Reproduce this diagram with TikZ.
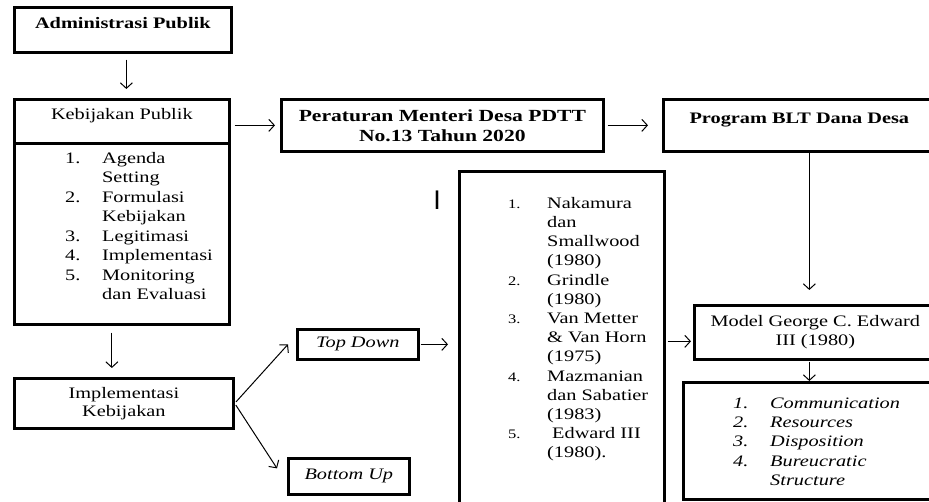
\documentclass[tikz,border=0pt]{standalone}
\usepackage{fontspec}
\setmainfont[FakeStretch=1.27]{Liberation Serif}
\newfontfamily\barfont{Liberation Sans}
\usetikzlibrary{arrows.meta,positioning}
\newcommand{\smallnum}[1]{{\fontsize{13}{14}\selectfont #1}}

\begin{document}
\begin{tikzpicture}[x=1pt,y=-1pt,
  box/.style={draw,line width=2.7pt,inner sep=4pt,anchor=north west,align=center,font=\fontsize{16}{19.5}\selectfont},
  items/.style={anchor=north west,inner sep=0pt,font=\fontsize{16}{19.5}\selectfont},
  arr/.style={-{Straight Barb[length=5.5pt,width=12pt]},line width=1pt}]
\clip (0,0) rectangle (929,502);

% left column
\node[box,minimum width=217pt,minimum height=45pt,text height=17pt,text depth=20pt,font=\fontsize{16}{19.5}\selectfont\bfseries] (admin) at (13,6) {Administrasi Publik};
\node[box,minimum width=215pt,minimum height=44pt,text height=16pt,text depth=20pt] (kebtitle) at (13,98) {Kebijakan Publik};
\node[box,minimum width=215pt,minimum height=181pt] (keblist) at (13,142) {};
\node[items] (kebitems) at (65,149.4) {\begin{tabular}{@{}p{37pt}@{}l@{}}
1. & Agenda\\ & Setting\\ 2. & Formulasi\\ & Kebijakan\\
3. & Legitimasi\\ 4. & Implementasi\\ 5. & Monitoring\\ & dan Evaluasi
\end{tabular}};
\node[box,minimum width=219pt,minimum height=50pt,font=\fontsize{16}{18}\selectfont] (impl) at (13,377) {Implementasi\\Kebijakan};
\node[box,minimum width=121pt,minimum height=30pt,font=\fontsize{16}{19.5}\selectfont\itshape] (topdown) at (296,328) {Top Down};
\node[box,minimum width=121pt,minimum height=36pt,font=\fontsize{16}{19.5}\selectfont\itshape] (bottomup) at (287,457) {Bottom Up};

% top row
\node[box,minimum width=322pt,minimum height=52pt,font=\fontsize{17}{20}\selectfont\bfseries] (peraturan) at (280,98) {Peraturan Menteri Desa PDTT\\No.13 Tahun 2020};
\node[box,minimum width=272pt,minimum height=52pt,text height=20pt,text depth=24pt,font=\fontsize{16}{19.5}\selectfont\bfseries] (blt) at (662,98) {Program BLT Dana Desa};

% theories
\node[anchor=center,inner sep=0pt,font=\barfont\fontsize{27}{27}\selectfont] (cursor) at (437,200) {I};
\node[box,minimum width=205pt,minimum height=340pt] (biglist) at (458,170) {};
\node[items,font=\fontsize{16}{19.2}\selectfont] (teori) at (508,194.6) {\begin{tabular}{@{}p{39pt}@{}l@{}}
\smallnum{1.} & Nakamura\\ & dan\\ & Smallwood\\ & (1980)\\
\smallnum{2.} & Grindle\\ & (1980)\\
\smallnum{3.} & Van Metter\\ & \& Van Horn\\ & (1975)\\
\smallnum{4.} & Mazmanian\\ & dan Sabatier\\ & (1983)\\
\smallnum{5.} & \hspace{5pt}Edward III\\ & (1980).
\end{tabular}};

% right column
\node[box,minimum width=242pt,minimum height=54pt] (model) at (693,304) {Model George C. Edward\\III (1980)};
\node[box,minimum width=253pt,minimum height=117pt] (edward) at (682,381) {};
\node[items,font=\fontsize{16}{19.3}\selectfont\itshape] (edwarditems) at (733,394.4) {\begin{tabular}{@{}p{37pt}@{}l@{}}
1. & Communication\\ 2. & Resources\\ 3. & Disposition\\ 4. & Bureucratic\\ & Structure
\end{tabular}};

% connectors
\draw[arr,shorten <=6pt,shorten >=9pt] ([xshift=3.5pt]admin.south) -- ([xshift=3.5pt]admin.south |- kebtitle.north);
\draw[arr,shorten <=4pt,shorten >=5pt] (peraturan.west -| kebtitle.east) -- (peraturan.west);
\draw[arr,shorten <=3pt,shorten >=14pt] (peraturan.east) -- (blt.west);
\draw[arr,shorten >=14pt] ([xshift=-6pt]model.north |- blt.south) -- ([xshift=-6pt]model.north);
\draw[arr,shorten <=1pt] ([xshift=-6pt]model.south) -- ([xshift=-6pt]model.south |- edward.north);
\draw[arr,shorten <=7pt,shorten >=9pt] ([xshift=-10pt]keblist.south) -- ([xshift=-10pt]keblist.south |- impl.north);
\draw[arr,shorten <=2pt] (impl.east) -- ([xshift=-8pt]topdown.west);
\draw[arr,shorten <=2pt] (impl.east) -- ([xshift=-10pt,yshift=8pt]bottomup.west);
\draw[arr,shorten <=1pt,shorten >=10pt] (topdown.east) -- (topdown.east -| biglist.west);
\draw[arr,shorten <=2pt,shorten >=2pt] ([yshift=-9pt]model.west -| biglist.east) -- ([yshift=-9pt]model.west);
\end{tikzpicture}
\end{document}
